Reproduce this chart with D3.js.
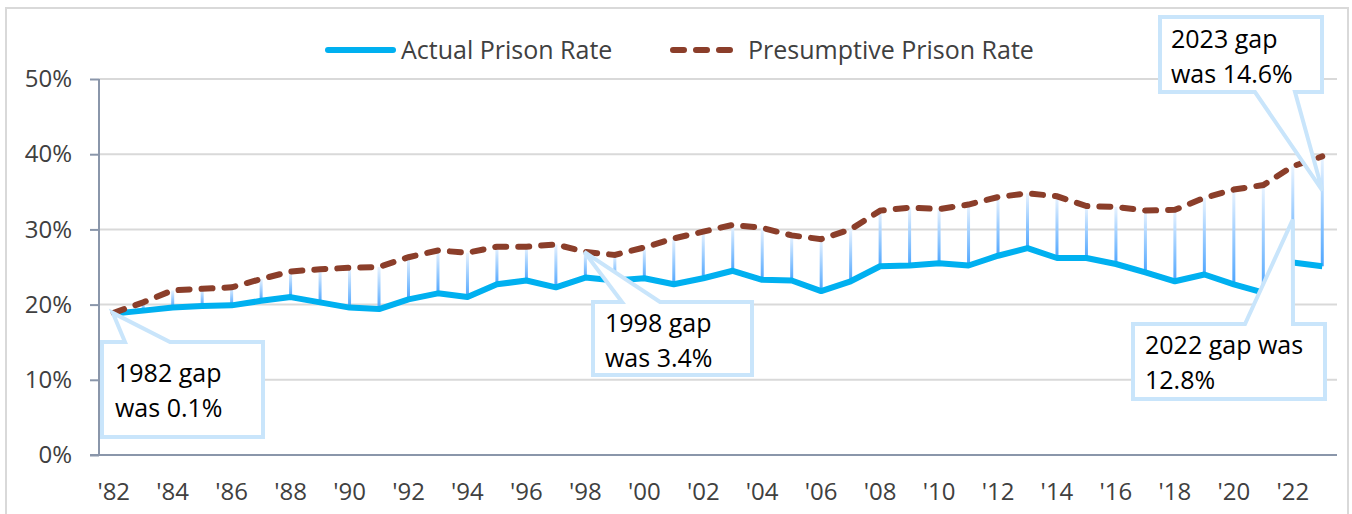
<!DOCTYPE html>
<html lang="en">
<head>
	<meta charset="UTF-8">
	<title>Actual vs Presumptive Prison Rate</title>
	<script src="https://cdn.jsdelivr.net/npm/d3@7"></script>
	<style>
	*{margin:0; padding:0;}
	body{background:#fff;}
	text{font-family:"Open Sans", sans-serif;}
	.grid line{stroke:#d9d9d9; stroke-width:2;}
	.axis path, .axis line{stroke:#8a96aa; stroke-width:2;}
	.axis text{fill:#404040; font-size:24px;}
	</style>
</head>
<body>

<script>
var years = d3.range(1982, 2024);
var actualRate = [
	18.8, 19.2, 19.6, 19.8, 19.9, 20.5, 21.0, 20.3, 19.6, 19.4,
	20.7, 21.5, 21.0, 22.7, 23.2, 22.3, 23.6, 23.2, 23.5, 22.7,
	23.5, 24.5, 23.3, 23.2, 21.8, 23.1, 25.1, 25.2, 25.5, 25.2,
	26.5, 27.5, 26.2, 26.2, 25.4, 24.3, 23.1, 24.0, 22.7, 21.6,
	25.6, 25.1
];
var presumptiveRate = [
	18.9, 20.3, 21.9, 22.1, 22.3, 23.4, 24.4, 24.7, 24.9, 25.0,
	26.3, 27.2, 26.9, 27.7, 27.7, 28.0, 27.0, 26.6, 27.6, 28.8,
	29.7, 30.6, 30.2, 29.2, 28.7, 30.0, 32.5, 32.9, 32.7, 33.3,
	34.3, 34.8, 34.4, 33.1, 33.0, 32.5, 32.6, 34.2, 35.3, 35.9,
	38.4, 39.7
];
var yTicks = [0, 10, 20, 30, 40, 50];
var seriesNames = ["Actual Prison Rate", "Presumptive Prison Rate"];

var noteYears = [1982, 1998, 2022, 2023];
var noteTip = [18.9, 27.0, 31.3, 35.2];
var noteLines = [
	["1982 gap", "was 0.1%"],
	["1998 gap", "was 3.4%"],
	["2022 gap was", "12.8%"],
	["2023 gap", "was 14.6%"]
];

var width = 1352;
var height = 514;
var svg = d3.select("body").append("svg")
	.attr("width", width)
	.attr("height", height);

var defs = svg.append("defs");
var grad = defs.append("linearGradient")
	.attr("id", "dropGrad")
	.attr("x1", 0).attr("y1", 0)
	.attr("x2", 0).attr("y2", 1);
grad.append("stop").attr("offset", "0%").attr("stop-color", "#eaf4ff");
grad.append("stop").attr("offset", "100%").attr("stop-color", "#4da5ff");

svg.append("rect")
	.attr("x", 6).attr("y", 8)
	.attr("width", 1342).attr("height", 520)
	.attr("fill", "none")
	.attr("stroke", "#d9d9d9")
	.attr("stroke-width", 2);

var x = d3.scaleBand()
	.domain(years)
	.range([99, 1337]);
var y = d3.scaleLinear()
	.domain([0, 50])
	.range([455, 79]);
function px(d){ return x(d) + x.bandwidth()/2; }

// gridlines
svg.append("g")
	.classed("grid", true)
	.selectAll("line")
	.data(yTicks.filter(function(d){ return d > 0; }))
	.enter()
	.append("line")
	.attr("x1", 99).attr("x2", 1337)
	.attr("y1", function(d){ return y(d); })
	.attr("y2", function(d){ return y(d); });

var yAxis = svg.append("g")
	.classed("axis", true)
	.attr("transform", "translate(99,0)")
	.call(d3.axisLeft(y)
		.tickValues(yTicks)
		.tickSize(9)
		.tickPadding(18)
		.tickFormat(function(d){ return d + "%"; }));
yAxis.select(".domain").attr("d", "M0," + y(50) + "V" + y(0));

var xAxis = svg.append("g")
	.classed("axis", true)
	.attr("transform", "translate(0,455)")
	.call(d3.axisBottom(x)
		.tickValues(years.filter(function(d){ return d % 2 === 0; }))
		.tickSize(0)
		.tickPadding(28)
		.tickFormat(function(d){ return "'" + String(d).slice(2); }));
xAxis.select(".domain").attr("d", "M90,0H1337");

// high-low drop lines
svg.append("g")
	.selectAll("rect")
	.data(years)
	.enter()
	.append("rect")
	.attr("x", function(d){ return px(d) - 1.5; })
	.attr("width", 3)
	.attr("y", function(d, i){ return y(presumptiveRate[i]); })
	.attr("height", function(d, i){ return y(actualRate[i]) - y(presumptiveRate[i]); })
	.attr("fill", "url(#dropGrad)");

var lineActual = d3.line()
	.x(function(d, i){ return px(years[i]); })
	.y(function(d){ return y(d); });

svg.append("path")
	.datum(actualRate)
	.attr("d", lineActual)
	.attr("fill", "none")
	.attr("stroke", "#00b0f0")
	.attr("stroke-width", 6)
	.attr("stroke-linejoin", "round");

svg.append("path")
	.datum(presumptiveRate)
	.attr("d", lineActual)
	.attr("fill", "none")
	.attr("stroke", "#8b3e2a")
	.attr("stroke-width", 6)
	.attr("stroke-linecap", "round")
	.attr("stroke-dasharray", "11 12");

// callouts: box, pointer base on top (t) or bottom (b), text origin
var boxes = [
	{x0:102, y0:342, x1:263, y1:437, side:"t", b0:125, b1:170, tx:115, ty:382},
	{x0:593, y0:302, x1:752, y1:375, side:"t", b0:622, b1:660, tx:605, ty:332},
	{x0:1133, y0:324, x1:1325, y1:399, side:"t", b0:1245, b1:1293, tx:1145, ty:354},
	{x0:1160, y0:17, x1:1322, y1:92, side:"b", b0:1255, b1:1295, tx:1171, ty:48}
];
var notes = svg.append("g");
boxes.forEach(function(b, i){
	var tipX = px(noteYears[i]);
	var tipY = y(noteTip[i]);
	if(i === 0) tipX = tipX - 1;
	if(i === 1) tipX = tipX - 1;
	var d;
	if(b.side === "t"){
		d = "M" + b.x0 + "," + b.y0 + "L" + b.b0 + "," + b.y0 + "L" + tipX + "," + tipY +
			"L" + b.b1 + "," + b.y0 + "L" + b.x1 + "," + b.y0 + "L" + b.x1 + "," + b.y1 +
			"L" + b.x0 + "," + b.y1 + "Z";
	} else {
		d = "M" + b.x0 + "," + b.y0 + "L" + b.x1 + "," + b.y0 + "L" + b.x1 + "," + b.y1 +
			"L" + b.b1 + "," + b.y1 + "L" + tipX + "," + tipY + "L" + b.b0 + "," + b.y1 +
			"L" + b.x0 + "," + b.y1 + "Z";
	}
	notes.append("path")
		.attr("d", d)
		.attr("fill", "#fff")
		.attr("stroke", "#c9e5fb")
		.attr("stroke-width", 4)
		.attr("stroke-linejoin", "miter");
	notes.append("g")
		.selectAll("text")
		.data(noteLines[i])
		.enter()
		.append("text")
		.attr("x", b.tx)
		.attr("y", function(t, j){ return b.ty + j*35; })
		.attr("fill", "#000")
		.style("font-size", "25px")
		.text(function(t){ return t; });
});

// legend
var legend = svg.append("g");
legend.append("line")
	.attr("x1", 328).attr("x2", 393)
	.attr("y1", 50).attr("y2", 50)
	.attr("stroke", "#00b0f0")
	.attr("stroke-width", 6)
	.attr("stroke-linecap", "round");
legend.append("text")
	.attr("x", 401).attr("y", 59)
	.attr("fill", "#404040")
	.style("font-size", "25px")
	.text(seriesNames[0]);
legend.append("line")
	.attr("x1", 673).attr("x2", 735)
	.attr("y1", 50).attr("y2", 50)
	.attr("stroke", "#8b3e2a")
	.attr("stroke-width", 6)
	.attr("stroke-linecap", "round")
	.attr("stroke-dasharray", "11 12");
legend.append("text")
	.attr("x", 748).attr("y", 59)
	.attr("fill", "#404040")
	.style("font-size", "25px")
	.text(seriesNames[1]);
</script>
</body>
</html>
